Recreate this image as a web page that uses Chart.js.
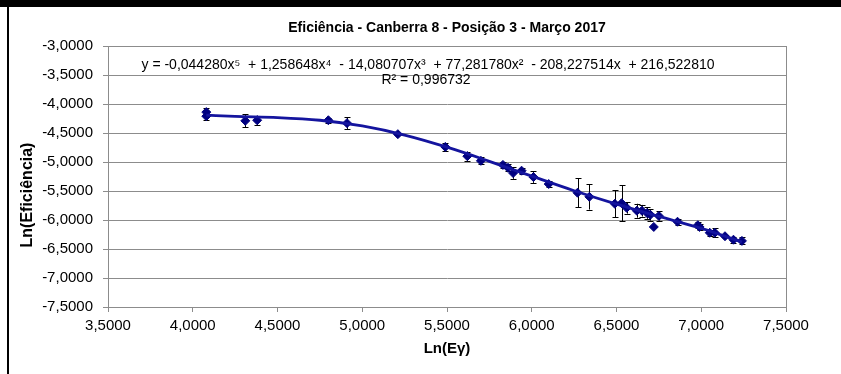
<!DOCTYPE html>
<html lang="pt">
<head>
  <meta charset="UTF-8">
  <title>Eficiência - Canberra 8 - Posição 3 - Março 2017</title>
  <script src="https://cdn.jsdelivr.net/npm/chart.js"></script>
  <style>
    body { margin: 0; background: #fff; }
    #wrap { position: relative; width: 841px; height: 374px; }
    #topBand { position: absolute; left: 0; top: 0; width: 841px; height: 7px; background: #000; }
    #leftLine { position: absolute; left: 7px; top: 0; width: 2px; height: 374px; background: #000; }
  </style>
</head>
<body>
  <div id="wrap">
    <canvas id="myChart" width="841" height="374"></canvas>
    <div id="topBand"></div>
    <div id="leftLine"></div>
  </div>

  <script>
    // measured points: Ln(Eγ), Ln(Eficiência) and the error of each point
    const lnE = [4.08, 4.08, 4.31, 4.38, 4.80, 4.91, 5.21, 5.49, 5.62, 5.70,
                 5.83, 5.86, 5.89, 5.94, 6.01, 6.10, 6.27, 6.34, 6.49, 6.53,
                 6.56, 6.62, 6.65, 6.68, 6.70, 6.72, 6.75, 6.86, 6.98, 6.99,
                 7.05, 7.08, 7.14, 7.19, 7.24];
    const lnEff = [-4.14, -4.21, -4.29, -4.28, -4.28, -4.33, -4.52, -4.74, -4.90, -4.98,
                   -5.05, -5.10, -5.19, -5.15, -5.26, -5.38, -5.53, -5.60, -5.72, -5.71,
                   -5.79, -5.84, -5.84, -5.88, -5.91, -6.12, -5.93, -6.03, -6.09, -6.12,
                   -6.22, -6.22, -6.28, -6.34, -6.36];
    const errEff = [0.07, 0.07, 0.11, 0.08, 0.04, 0.10, 0.02, 0.07, 0.08, 0.06,
                    0.05, 0.06, 0.10, 0.05, 0.10, 0.05, 0.25, 0.22, 0.23, 0.31,
                    0.10, 0.12, 0.10, 0.10, 0.10, 0.00, 0.08, 0.05, 0.05, 0.05,
                    0.05, 0.08, 0.02, 0.05, 0.06];

    // polynomial trendline
    const trendX = [4.08, 4.25, 4.50, 4.75, 5.00, 5.25, 5.50, 5.75, 6.00, 6.25, 6.50, 6.75, 7.00, 7.24];
    const trendY = [-4.193, -4.215, -4.234, -4.280, -4.379, -4.536, -4.745, -4.988, -5.244, -5.495, -5.726, -5.938, -6.145, -6.380];

    const titleText = 'Eficiência - Canberra 8 - Posição 3 - Março 2017';
    const yTitleText = 'Ln(Eficiência)';
    const equationText = 'y = -0,044280x\u2075  + 1,258648x\u2074  - 14,080707x\u00b3  + 77,281780x\u00b2  - 208,227514x  + 216,522810';
    const r2Text = 'R\u00b2 = 0,996732';

    const FONT = '"Liberation Sans", Arial, sans-serif';
    const GRID = '#8c8c8c';

    function fmt(v) {
      return v.toFixed(4).replace('.', ',');
    }

    // error bars, drawn under the markers
    const errorBars = {
      id: 'errorBars',
      beforeDatasetsDraw(chart) {
        const ctx = chart.ctx;
        const xs = chart.scales.x, ys = chart.scales.y;
        ctx.save();
        ctx.strokeStyle = '#000';
        ctx.lineWidth = 1;
        for (let i = 0; i < lnE.length; i++) {
          if (!errEff[i]) continue;
          const px = Math.round(xs.getPixelForValue(lnE[i])) + 0.5;
          const y1 = ys.getPixelForValue(lnEff[i] + errEff[i]);
          const y2 = ys.getPixelForValue(lnEff[i] - errEff[i]);
          ctx.beginPath();
          ctx.moveTo(px, y1); ctx.lineTo(px, y2);
          ctx.moveTo(px - 3, Math.round(y1) + 0.5); ctx.lineTo(px + 3, Math.round(y1) + 0.5);
          ctx.moveTo(px - 3, Math.round(y2) + 0.5); ctx.lineTo(px + 3, Math.round(y2) + 0.5);
          ctx.stroke();
        }
        ctx.restore();
      }
    };

    // plot box, titles and the equation label
    const extras = {
      id: 'extras',
      afterDraw(chart) {
        const ctx = chart.ctx;
        const a = chart.chartArea;
        const midX = (a.left + a.right) / 2;
        ctx.save();
        ctx.strokeStyle = GRID;
        ctx.lineWidth = 1;
        ctx.strokeRect(Math.round(a.left) + 0.5, Math.round(a.top) + 0.5,
                       Math.round(a.right - a.left), Math.round(a.bottom - a.top));
        ctx.fillStyle = '#000';
        ctx.textAlign = 'center';
        ctx.textBaseline = 'middle';

        ctx.font = 'bold 14px ' + FONT;
        ctx.fillText(titleText, midX, 28);

        ctx.font = '14px ' + FONT;
        ctx.fillText(equationText, 428, 65);
        ctx.fillText(r2Text, 426, 80);

        ctx.translate(28, 195);
        ctx.rotate(-Math.PI / 2);
        ctx.font = 'bold 16px ' + FONT;
        ctx.fillText(yTitleText, 0, 0);
        ctx.restore();
      }
    };

    const ctx = document.getElementById('myChart').getContext('2d');
    new Chart(ctx, {
      type: 'scatter',
      data: {
        datasets: [
          {
            label: 'Eficiência',
            data: lnE.map((x, i) => ({ x: x, y: lnEff[i] })),
            pointStyle: 'rectRot',
            pointRadius: 4.5,
            backgroundColor: '#000080',
            borderColor: '#000080',
            borderWidth: 1,
            order: 2
          },
          {
            label: 'Polinômio',
            type: 'line',
            data: trendX.map((x, i) => ({ x: x, y: trendY[i] })),
            borderColor: '#14149e',
            borderWidth: 2.8,
            pointRadius: 0,
            cubicInterpolationMode: 'monotone',
            fill: false,
            order: 1
          }
        ]
      },
      options: {
        responsive: false,
        animation: false,
        layout: { padding: { top: 46, left: 12, right: 55, bottom: 10 } },
        plugins: {
          legend: { display: false },
          tooltip: { enabled: false },
          title: { display: false }
        },
        scales: {
          x: {
            type: 'linear',
            min: 3.5,
            max: 7.5,
            afterFit: (s) => { s.height = 57; },
            ticks: {
              stepSize: 0.5,
              color: '#000',
              padding: 5,
              maxRotation: 0,
              font: { family: FONT, size: 15 },
              callback: (v) => fmt(v)
            },
            grid: { drawOnChartArea: false, tickLength: 5, color: GRID },
            border: { color: GRID },
            title: {
              display: true,
              text: 'Ln(Eγ)',
              color: '#000',
              font: { family: FONT, size: 15, weight: 'bold' },
              padding: 6
            }
          },
          y: {
            min: -7.5,
            max: -3,
            afterFit: (s) => { s.width = 96; },
            ticks: {
              stepSize: 0.5,
              color: '#000',
              padding: 10,
              font: { family: FONT, size: 15 },
              callback: (v) => fmt(v)
            },
            grid: { tickLength: 5, color: GRID },
            border: { color: GRID },
            title: { display: false }
          }
        }
      },
      plugins: [errorBars, extras]
    });
  </script>
</body>
</html>
